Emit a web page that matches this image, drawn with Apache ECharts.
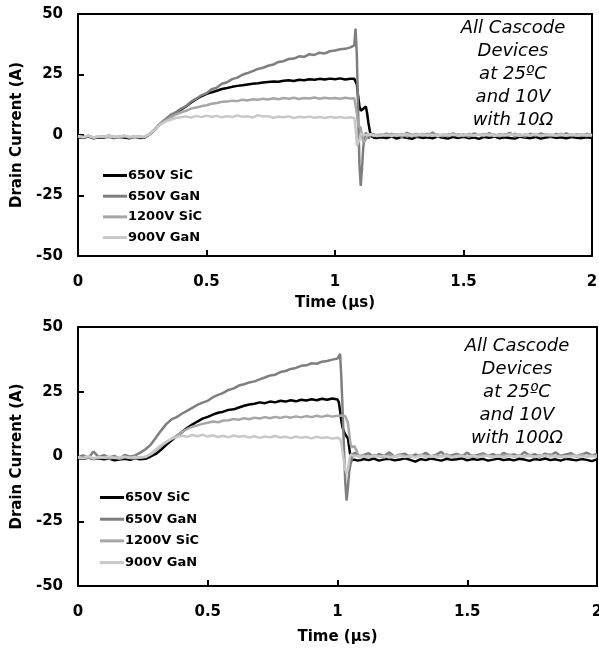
<!DOCTYPE html>
<html>
<head>
<meta charset="utf-8">
<script src="https://cdn.jsdelivr.net/npm/echarts@6/dist/echarts.min.js"></script>
<style>html,body{margin:0;padding:0;background:#fff}#c{width:599px;height:653px}</style>
</head>
<body>
<div id="c"></div>
<script>
// ---------- DATA ----------
const seriesNames = ['650V SiC', '650V GaN', '1200V SiC', '900V GaN'];
const seriesColors = ['#000000', '#7f7f7f', '#a6a6a6', '#c8c8c8'];
const xTicks = [0, 0.5, 1, 1.5, 2];
const yTicks = [-50, -25, 0, 25, 50];

// Top chart (10 ohm) sample times (us)
const tTop = [0,0.02,0.04,0.06,0.08,0.1,0.12,0.14,0.16,0.18,0.2,0.22,0.24,0.26,
  0.28,0.3,0.32,0.34,0.36,0.38,0.4,0.42,0.44,0.46,0.48,0.5,0.52,0.54,0.56,0.58,0.6,0.62,0.64,0.66,0.68,0.7,0.72,0.74,0.76,0.78,0.8,0.82,0.84,0.86,0.88,0.9,0.92,0.94,0.96,0.98,1,1.02,1.04,1.06,
  1.075,1.08,1.085,1.09,1.095,1.1,1.105,1.11,1.115,1.12,1.125,1.13,1.135,1.14,1.15,1.16,
  1.18,1.2,1.22,1.24,1.26,1.28,1.3,1.32,1.34,1.36,1.38,1.4,1.42,1.44,1.46,1.48,1.5,1.52,1.54,1.56,1.58,1.6,1.62,1.64,1.66,1.68,1.7,1.72,1.74,1.76,1.78,1.8,1.82,1.84,1.86,1.88,1.9,1.92,1.94,1.96,1.98,2];

const top650SiC = [-0.8,-1.2,-0.6,-1.4,-0.9,-1.1,-0.5,-1.3,-0.8,-1.0,-1.4,-0.7,-1.2,-1.0,
  0.3,2.2,4.5,6.3,7.8,9.2,10.5,11.8,13.4,14.8,16.0,17.0,17.6,18.3,19.0,19.4,19.9,20.3,20.6,20.9,21.2,21.4,21.7,21.9,22.1,22.0,22.4,22.6,22.3,22.8,22.6,23.0,22.8,23.2,22.9,23.3,23.0,23.4,22.9,23.2,
  23.2,23.0,21.0,16.0,12.0,10.0,10.2,10.8,11.5,11.8,9.0,5.0,2.0,-0.5,-1.0,-1.2,
  -0.9,-1.3,-0.6,-1.5,-0.8,-1.1,-1.6,-0.7,-1.2,-0.9,-1.4,-0.6,-1.1,-1.5,-0.8,-1.2,-0.7,-1.3,-1.0,-1.6,-0.8,-1.1,-0.6,-1.4,-0.9,-1.2,-1.5,-0.7,-1.0,-1.3,-0.8,-1.5,-1.0,-0.7,-1.2,-0.9,-1.4,-0.8,-1.1,-1.3,-0.9,-1.2];
const top650GaN = [-0.5,-1.0,-0.3,-1.1,-0.6,-0.9,-0.2,-1.0,-0.7,-0.4,-1.2,-0.5,-0.9,-0.8,
  0.5,2.5,4.8,6.5,8.3,9.3,10.8,11.9,13.8,15.0,16.4,17.3,18.9,19.6,21.2,21.8,23.1,23.7,24.9,25.6,26.4,27.3,27.8,28.6,29.1,30.2,30.5,31.4,31.6,32.5,32.3,33.4,33.1,34.0,33.7,34.6,34.9,35.4,35.6,36.2,
  37.0,44.0,33.0,10.0,-12.0,-21.0,-14.0,-5.0,-1.0,1.0,0.0,-1.5,-1.0,0.0,0.5,-0.5,
  -0.3,0.6,-0.5,0.4,-0.8,0.9,-0.2,-0.6,0.5,-0.4,1.0,-0.7,0.2,-0.3,0.7,-0.5,0.3,-0.8,0.6,0.1,-0.4,0.8,-0.6,0.3,-0.2,0.9,-0.5,0.1,-0.7,0.5,-0.3,0.6,-0.1,-0.6,0.4,-0.2,0.7,-0.5,0.2,-0.4,0.5,-0.3];
const top1200SiC = [-0.6,-0.9,-0.4,-1.2,-0.7,-0.5,-1.0,-0.6,-1.1,-0.4,-0.8,-1.0,-0.6,-0.9,
  0.4,2.3,4.5,6.0,7.3,8.4,9.3,10.0,10.9,11.4,11.9,12.3,12.9,13.2,13.7,13.8,14.2,14.0,14.6,14.3,14.8,14.6,15.0,14.7,15.2,14.8,15.3,15.0,15.4,14.9,15.3,15.1,15.5,15.0,15.4,15.1,15.3,15.0,15.4,15.1,
  15.2,14.5,9.0,4.0,4.5,3.0,0.0,-3.0,-3.5,-2.0,-0.5,0.3,0.5,0.0,-0.5,0.0,
  0.2,-0.4,0.5,-0.2,0.3,-0.6,0.1,0.4,-0.3,0.6,-0.2,0.2,-0.5,0.4,-0.1,0.3,-0.4,0.5,-0.2,0.1,0.4,-0.3,0.2,-0.5,0.3,0.0,0.5,-0.3,0.2,-0.1,0.4,-0.4,0.3,0.1,-0.2,0.5,-0.3,0.2,-0.1,0.3,-0.4,0.2];
const top900GaN = [-0.4,-0.8,-0.2,-1.0,-0.5,-0.7,-0.3,-0.9,-0.6,-0.3,-0.8,-0.5,-0.7,-0.6,
  0.4,2.3,4.3,5.5,6.3,7.0,7.3,7.7,7.2,7.9,7.4,8.0,7.5,7.9,7.3,7.8,7.4,8.1,7.5,7.7,7.2,8.2,7.6,7.8,7.1,7.6,7.3,7.7,7.0,7.5,7.2,7.6,7.1,7.4,7.0,7.5,7.1,7.4,7.0,7.3,
  7.0,3.0,-4.5,-5.0,-2.0,0.5,1.0,0.0,-0.5,0.0,0.5,0.0,-0.3,0.2,0.0,-0.3,
  -0.2,0.1,-0.4,0.2,-0.1,0.3,-0.3,0.0,0.2,-0.2,0.1,-0.4,0.3,-0.1,0.2,-0.3,0.1,0.0,-0.2,0.3,-0.1,0.2,-0.3,0.1,-0.2,0.2,0.0,-0.3,0.1,-0.1,0.3,-0.2,0.0,0.2,-0.3,0.1,-0.1,0.2,-0.2,0.0,0.1,-0.2];

// Bottom chart (100 ohm) sample times (us)
const tBot = [0,0.02,0.04,0.06,0.08,0.1,0.12,0.14,0.16,0.18,0.2,0.22,0.24,0.26,
  0.28,0.3,0.32,0.34,0.36,0.38,0.4,0.42,0.44,0.46,0.48,0.5,0.52,0.54,0.56,0.58,0.6,0.62,0.64,0.66,0.68,0.7,0.72,0.74,0.76,0.78,0.8,0.82,0.84,0.86,0.88,0.9,0.92,0.94,0.96,0.98,1,
  1.005,1.01,1.015,1.02,1.025,1.03,1.035,1.04,1.045,1.05,1.055,1.06,1.065,1.07,1.075,1.08,1.09,
  1.1,1.12,1.14,1.16,1.18,1.2,1.22,1.24,1.26,1.28,1.3,1.32,1.34,1.36,1.38,1.4,1.42,1.44,1.46,1.48,1.5,1.52,1.54,1.56,1.58,1.6,1.62,1.64,1.66,1.68,1.7,1.72,1.74,1.76,1.78,1.8,1.82,1.84,1.86,1.88,1.9,1.92,1.94,1.96,1.98,2];

const bot650SiC = [-0.6,-0.9,-0.4,-1.0,-0.7,-1.1,-0.8,-1.5,-1.2,-0.9,-1.3,-0.8,-1.1,-0.9,
  0.0,1.0,2.6,4.5,6.2,7.8,9.4,11.0,12.3,13.5,14.6,15.3,16.2,16.9,17.3,18.0,18.2,18.9,19.6,20.1,20.4,20.9,20.6,21.2,20.9,21.5,21.2,21.7,21.3,21.9,21.6,22.1,21.7,22.3,21.9,22.4,22.0,
  21.0,17.5,13.5,11.0,9.5,8.5,8.0,7.0,3.5,0.0,-1.5,-2.0,-1.2,-0.8,-1.5,-1.0,-1.4,
  -1.0,-1.4,-0.8,-1.6,-1.1,-0.9,-1.5,-1.2,-0.7,-1.3,-2.0,-1.0,-1.4,-0.8,-1.2,-1.6,-0.9,-1.3,-1.1,-0.7,-1.5,-1.0,-1.3,-0.9,-1.6,-1.2,-0.8,-1.4,-1.1,-1.5,-0.9,-1.2,-1.7,-1.0,-1.3,-0.8,-1.4,-1.1,-1.6,-0.9,-1.2,-1.5,-1.0,-1.3,-1.8,-1.1];
const bot650GaN = [-0.3,0.4,-0.6,1.9,-0.2,0.5,-0.5,0.2,-0.8,0.6,-0.1,0.4,1.5,2.8,
  4.5,7.2,10.0,12.5,14.3,15.2,16.5,17.6,18.8,19.9,20.8,21.5,22.9,23.8,24.6,25.7,26.3,27.4,27.9,28.6,29.0,29.8,30.5,31.3,31.6,32.6,33.0,33.8,34.2,35.0,35.2,36.0,35.8,36.6,36.9,37.4,37.8,
  38.2,39.6,30.0,17.0,3.0,-10.0,-17.0,-12.0,-6.0,-3.0,-1.0,1.0,0.3,1.5,0.5,1.2,0.2,
  0.5,1.3,-0.2,0.9,0.2,1.6,-0.1,0.6,1.1,-0.3,0.8,0.2,1.4,0.0,0.7,1.8,-0.2,0.5,1.0,0.1,1.5,-0.1,0.6,1.2,0.3,0.9,-0.2,1.4,0.4,0.8,0.0,1.7,0.3,0.9,-0.1,1.1,0.4,1.6,0.2,0.8,1.3,-0.1,0.7,1.5,0.4,1.0];
const bot1200SiC = [-0.4,-0.7,-0.2,-0.9,-0.5,-0.3,-0.8,-0.4,-0.9,-0.2,-0.6,-0.8,-0.4,-0.2,
  0.8,2.4,4.0,5.4,6.8,8.0,9.4,10.6,11.5,12.0,12.6,13.0,13.5,13.2,13.9,14.0,14.5,14.2,14.8,14.4,15.0,14.7,15.2,14.8,15.3,14.9,15.4,15.0,15.5,15.1,15.6,15.2,15.7,15.3,15.8,15.4,15.7,
  15.5,15.8,15.4,15.7,15.5,15.6,15.2,13.0,9.0,5.0,3.5,3.0,4.0,4.2,2.0,0.2,-0.3,
  0.3,-0.2,0.6,0.1,-0.4,0.5,0.0,0.8,-0.1,0.4,-0.3,0.7,0.2,-0.2,0.5,0.1,0.9,-0.1,0.3,0.6,-0.3,0.4,0.0,0.7,0.2,-0.2,0.6,0.3,0.8,-0.1,0.4,0.1,0.7,-0.2,0.5,0.2,0.9,0.0,0.4,-0.3,0.6,0.2,0.8,0.1,0.5,0.3];
const bot900GaN = [-0.3,-0.6,0.1,-0.7,-0.2,-0.5,0.0,-0.6,-0.3,-0.1,-0.5,-0.2,-0.4,-0.1,
  1.0,2.8,4.4,5.7,6.8,7.5,8.1,7.6,8.3,7.8,8.4,7.7,8.2,7.5,8.0,7.4,8.1,7.6,7.9,7.3,7.8,7.2,7.7,7.4,7.9,7.3,7.6,7.1,7.7,7.2,7.5,7.0,7.6,7.1,7.4,6.9,7.2,
  7.0,6.8,5.0,1.5,-2.0,-5.0,-6.5,-5.0,-1.5,0.8,1.0,0.3,-0.3,0.2,-0.2,0.1,-0.2,
  0.1,-0.3,0.3,-0.1,0.2,-0.4,0.0,0.3,-0.2,0.1,-0.3,0.4,-0.1,0.2,-0.2,0.0,0.3,-0.3,0.1,0.2,-0.2,0.3,-0.1,0.0,0.4,-0.2,0.1,-0.3,0.2,0.0,0.3,-0.1,0.2,-0.2,0.1,0.4,-0.1,0.2,-0.3,0.1,0.0,0.3,-0.2,0.2,0.1,-0.1];

const topNote = 'All Cascode\nDevices\nat 25ºC\nand 10V\nwith 10Ω';
const botNote = 'All Cascode\nDevices\nat 25ºC\nand 10V\nwith 100Ω';
const xName = 'Time (µs)';
const yName = 'Drain Current (A)';

// ---------- BUILD ----------
const topSets = [top650SiC, top650GaN, top1200SiC, top900GaN];
const botSets = [bot650SiC, bot650GaN, bot1200SiC, bot900GaN];
topSets.forEach((s, i) => { if (s.length !== tTop.length) throw new Error('top ' + i + ' len ' + s.length + ' vs ' + tTop.length); });
botSets.forEach((s, i) => { if (s.length !== tBot.length) throw new Error('bot ' + i + ' len ' + s.length + ' vs ' + tBot.length); });

const FONT = '"DejaVu Sans", sans-serif';
const xMin = xTicks[0], xMax = xTicks[xTicks.length - 1];
const yMin = yTicks[0], yMax = yTicks[yTicks.length - 1];
function xAxisDef(gi, gap) {
  return {
    gridIndex: gi, type: 'value', position: 'bottom', min: xMin, max: xMax, interval: 0.5,
    name: xName, nameLocation: 'middle', nameGap: gap,
    nameTextStyle: { fontFamily: FONT, fontWeight: 'bold', fontSize: 15, color: '#000' },
    axisLine: { show: true, onZero: false, lineStyle: { color: '#000', width: 2 } },
    axisTick: { show: true, inside: true, length: 6, lineStyle: { color: '#000', width: 2 } },
    axisLabel: { color: '#000', fontFamily: FONT, fontWeight: 'bold', fontSize: 15, margin: 19 },
    splitLine: { show: false }
  };
}
function xFrame(gi) {
  return { gridIndex: gi, type: 'value', position: 'top', min: xMin, max: xMax,
    axisLine: { show: true, onZero: false, lineStyle: { color: '#000', width: 2 } },
    axisTick: { show: false }, axisLabel: { show: false }, splitLine: { show: false } };
}
function yAxisDef(gi) {
  return {
    gridIndex: gi, type: 'value', position: 'left', min: yMin, max: yMax, interval: 25,
    name: yName, nameLocation: 'middle', nameGap: 51, nameRotate: 90,
    nameTextStyle: { fontFamily: FONT, fontWeight: 'bold', fontSize: 15, color: '#000' },
    axisLine: { show: true, onZero: false, lineStyle: { color: '#000', width: 2 } },
    axisTick: { show: true, inside: true, length: 6, lineStyle: { color: '#000', width: 2 } },
    axisLabel: { color: '#000', fontFamily: FONT, fontWeight: 'bold', fontSize: 15, margin: 15 },
    splitLine: { show: false }
  };
}
function yFrame(gi) {
  return { gridIndex: gi, type: 'value', position: 'right', min: yMin, max: yMax,
    axisLine: { show: true, onZero: false, lineStyle: { color: '#000', width: 2 } },
    axisTick: { show: false }, axisLabel: { show: false }, splitLine: { show: false } };
}
const series = [];
[[tTop, topSets, 0], [tBot, botSets, 1]].forEach(([T, sets, gi]) => {
  sets.forEach((vals, i) => {
    series.push({
      name: seriesNames[i], type: 'line', xAxisIndex: gi, yAxisIndex: gi,
      data: T.map((t, k) => [t, vals[k]]),
      symbol: 'none', showSymbol: false, smooth: false,
      lineStyle: { color: seriesColors[i], width: 2.5 },
      itemStyle: { color: seriesColors[i] },
      emphasis: { disabled: true }
    });
  });
});
function legendDef(left, top, gap) {
  return {
    orient: 'vertical', left: left, top: top, itemGap: gap, itemWidth: 24, itemHeight: 3,
    padding: 0, icon: 'rect', data: seriesNames, selectedMode: false,
    textStyle: { fontFamily: FONT, fontWeight: 'bold', fontSize: 13, color: '#000', padding: [0, 0, 0, -4] }
  };
}
const gridBase = { show: false, outerBoundsMode: 'none', containLabel: false };
const option = {
  animation: false,
  backgroundColor: '#fff',
  grid: [
    Object.assign({ left: 78, top: 14, width: 514, height: 242 }, gridBase),
    Object.assign({ left: 78, top: 327, width: 519, height: 259 }, gridBase)
  ],
  xAxis: [xAxisDef(0, 40), xAxisDef(1, 44), xFrame(0), xFrame(1)],
  yAxis: [yAxisDef(0), yAxisDef(1), yFrame(0), yFrame(1)],
  legend: [legendDef(103, 169, 7.7), legendDef(100, 491, 8.7)],
  graphic: [
    { type: 'text', x: 513, y: 17, z: 100,
      style: { text: topNote, x: 0, y: 0, align: 'center', verticalAlign: 'top', fontFamily: FONT, fontStyle: 'italic', fontSize: 18, lineHeight: 23, fill: '#000' } },
    { type: 'text', x: 517, y: 335, z: 100,
      style: { text: botNote, x: 0, y: 0, align: 'center', verticalAlign: 'top', fontFamily: FONT, fontStyle: 'italic', fontSize: 18, lineHeight: 23, fill: '#000' } }
  ],
  series: series
};
const chart = echarts.init(document.getElementById('c'), null, { renderer: 'canvas' });
chart.setOption(option);
</script>
</body>
</html>
